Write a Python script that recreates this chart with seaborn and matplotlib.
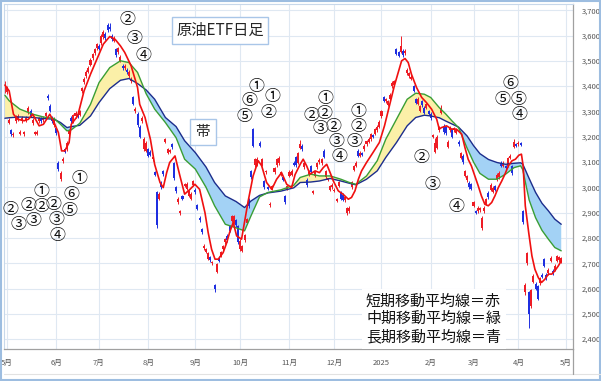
import numpy as np
import pandas as pd
import matplotlib
matplotlib.use("Agg")
import matplotlib.pyplot as plt
import seaborn as sns
from matplotlib.lines import Line2D
from matplotlib.patches import Rectangle

# ---------------- data ----------------
all_days = pd.bdate_range("2024-04-30", "2025-05-01")
month_starts = pd.date_range("2024-05-01", "2025-05-01", freq="MS")
month_labels = ["5月", "6月", "7月", "8月", "9月", "10月", "11月", "12月",
                "2025", "2月", "3月", "4月", "5月"]

opens = [3380,3375,3255,3225,3205,3262,3270,3212,3262,3210,
         3265,3296,3302,3255,3212,3212,3262,3270,3265,3280,
         3360,3322,3275,3245,3235,3098,3032,3105,3150,3150,
         3210,3275,3260,3280,3290,3285,3380,3415,3440,3455,
         3485,3510,3530,3550,3560,3570,3595,3605,3640,3635,
         3598,3580,3545,3535,3500,3480,3470,3465,3440,3420,
         3355,3300,3290,3240,3262,3150,3145,3150,3140,3110,
         3060,2980,2955,3019,3065,3180,3135,3140,3170,3095,
         3000,2942,2898,2965,3005,2995,2965,2955,3010,2990,
         2930,2880,2835,2760,2745,2718,2725,2700,2612,2665,
         2722,2730,2755,2782,2808,2847,2867,2860,2870,2847,
         2755,2750,2790,2860,2953,3065,3230,3088,3090,3177,
         3090,3025,3060,3000,2930,2995,3060,3088,3095,3050,
         3040,2965,2995,3045,3050,3098,3118,3098,3157,3165,
         3080,3030,3050,3085,2978,3045,3080,3100,3095,3145,
         3040,3030,2990,3000,2985,2945,3005,2980,2970,2948,
         2900,2905,3000,3070,3085,3145,3125,3135,3150,3170,
         3180,3190,3205,3210,3225,3240,3280,3355,3340,3325,
         3350,3400,3405,3545,3533,3535,3540,3530,3450,3440,
         3430,3400,3348,3330,3302,3340,3315,3315,3300,3290,
         3200,3140,3155,3225,3295,3243,3238,3160,3225,3230,
         3225,3215,3180,3115,3125,3045,3028,3018,3012,2928,
         2907,2907,2910,2840,2905,2935,2978,2990,2982,3005,
         3032,3040,3098,3085,3085,3085,3115,3085,3160,3170,
         3170,3175,2907,2585,2700,2585,2530,2625,2617,2610,
         2620,2655,2716,2655,2660,2710,2670,2675,2710,2712,2705]
closes = [3405,3395,3265,3210,3212,3278,3282,3220,3275,3218,
          3272,3312,3282,3265,3218,3220,3272,3262,3275,3292,
          3352,3302,3262,3270,3215,3072,3058,3112,3140,3177,
          3225,3262,3285,3295,3280,3300,3392,3430,3455,3470,
          3505,3525,3545,3565,3548,3600,3615,3590,3620,3625,
          3585,3592,3522,3550,3515,3470,3480,3455,3455,3430,
          3330,3310,3245,3200,3275,3190,3175,3125,3128,3120,
          3050,2850,2975,3000,3052,3190,3150,3145,3158,3035,
          2985,2955,2905,2955,3012,3015,2985,2975,3025,2980,
          2915,2870,2822,2770,2755,2740,2712,2705,2598,2695,
          2709,2745,2768,2795,2790,2828,2887,2885,2850,2782,
          2788,2768,2810,2875,2927,3040,3165,3110,3112,3165,
          3110,3000,3065,2995,2936,3005,3075,3110,3115,3060,
          3030,2942,3005,3062,3065,3090,3087,3135,3170,3150,
          3095,3008,3062,3060,2982,3060,3095,3108,3110,3120,
          3065,3033,3005,3010,2990,2952,3020,2955,2950,2960,
          2918,2920,3020,3085,3098,3125,3137,3128,3165,3183,
          3192,3210,3200,3230,3240,3260,3300,3342,3348,3340,
          3365,3414,3420,3528,3520,3560,3522,3540,3465,3450,
          3437,3382,3335,3350,3320,3325,3295,3328,3290,3272,
          3205,3175,3200,3238,3315,3218,3215,3180,3238,3200,
          3235,3225,3170,3135,3100,3065,3045,3000,2995,2940,
          2900,2920,2918,2880,2920,2952,2960,3010,2998,2990,
          3050,3058,3085,3098,3075,3115,3125,3055,3178,3165,
          3175,3168,2862,2615,2740,2500,2595,2650,2600,2560,
          2640,2645,2690,2640,2675,2722,2660,2690,2728,2725,2720]
highs = [3420,3402,3272,3230,3218,3285,3288,3226,3282,3224,
         3280,3322,3308,3272,3224,3226,3278,3276,3282,3298,
         3368,3328,3280,3276,3240,3104,3064,3118,3156,3182,
         3232,3282,3290,3302,3296,3306,3398,3436,3462,3478,
         3512,3532,3552,3572,3566,3606,3622,3612,3650,3648,
         3604,3598,3552,3556,3522,3486,3486,3470,3462,3436,
         3362,3316,3296,3246,3282,3198,3182,3156,3146,3126,
         3066,2986,2982,3025,3070,3196,3156,3150,3176,3100,
         3006,2960,2910,2970,3018,3020,2990,2980,3030,2996,
         2936,2886,2840,2776,2760,2746,2730,2710,2618,2700,
         2728,2750,2774,2800,2814,2852,2892,2890,2876,2852,
         2794,2774,2816,2880,2958,3070,3236,3116,3118,3182,
         3116,3030,3070,3006,2942,3010,3080,3116,3122,3066,
         3046,2970,3010,3068,3072,3104,3124,3140,3188,3172,
         3100,3036,3068,3090,2988,3066,3100,3114,3116,3152,
         3070,3038,3010,3016,2996,2958,3026,2986,2976,2966,
         2924,2926,3026,3090,3104,3150,3142,3140,3170,3188,
         3198,3216,3212,3236,3246,3266,3306,3362,3354,3346,
         3372,3420,3426,3552,3540,3600,3546,3546,3472,3456,
         3442,3406,3354,3356,3326,3346,3320,3334,3306,3296,
         3210,3195,3206,3244,3325,3250,3244,3186,3244,3236,
         3240,3230,3186,3140,3130,3070,3050,3024,3018,2946,
         2912,2926,2924,2886,2926,2958,2984,3016,3004,3010,
         3056,3064,3104,3104,3090,3120,3130,3090,3190,3176,
         3182,3180,2912,2622,2746,2590,2600,2656,2624,2615,
         2646,2660,2722,2660,2680,2728,2676,2696,2734,2730,2726]
lows = [3372,3368,3250,3204,3200,3256,3264,3206,3255,3204,
        3258,3290,3276,3248,3206,3206,3256,3256,3258,3274,
        3346,3296,3256,3240,3208,3064,3024,3098,3134,3144,
        3204,3256,3254,3274,3274,3280,3374,3408,3434,3450,
        3478,3504,3524,3544,3542,3564,3588,3584,3614,3618,
        3578,3574,3516,3528,3494,3464,3464,3448,3434,3414,
        3324,3294,3240,3194,3256,3144,3140,3118,3122,3104,
        3044,2840,2948,2994,3046,3174,3130,3134,3152,3030,
        2978,2936,2892,2950,3000,2990,2960,2950,3004,2974,
        2910,2864,2816,2754,2740,2712,2706,2694,2588,2660,
        2704,2724,2750,2776,2784,2822,2862,2855,2844,2776,
        2750,2744,2784,2854,2920,3034,3160,3082,3084,3160,
        3084,2994,3054,2990,2924,2990,3054,3082,3090,3044,
        3024,2936,2990,3040,3044,3084,3082,3094,3152,3144,
        3074,3002,3044,3054,2972,3040,3074,3094,3090,3114,
        3034,3024,2984,2994,2980,2940,3000,2950,2944,2942,
        2892,2898,2995,3064,3080,3120,3120,3122,3144,3165,
        3174,3185,3194,3205,3220,3235,3275,3336,3334,3320,
        3345,3394,3400,3522,3514,3530,3516,3524,3444,3434,
        3424,3376,3330,3325,3296,3318,3290,3310,3284,3266,
        3194,3134,3150,3220,3290,3212,3208,3154,3220,3194,
        3220,3210,3164,3110,3094,3040,3022,2994,2990,2922,
        2894,2900,2904,2830,2900,2930,2954,2984,2976,2984,
        3026,3034,3080,3080,3070,3080,3110,3050,3155,3160,
        3164,3162,2856,2575,2694,2445,2524,2620,2594,2554,
        2614,2640,2684,2634,2654,2704,2654,2670,2704,2706,2700]

# moving averages, read at knots (trading-day index)
short_idx = [0, 2, 4, 6, 9, 11, 13, 16, 18, 21, 23, 25, 26.5, 28, 30, 31, 34, 37, 40, 43,
             46, 49, 51.5, 54, 56, 59, 62, 63, 65.5, 68, 70, 72.5, 74, 75.6, 77, 79.5, 81.8, 84,
             86.5, 88.8, 91, 93.5, 95, 96.6, 98.2, 99.7, 102, 103.7, 105, 106.7, 108.3, 110.6,
             112.2, 113.7, 116, 118.4, 120, 122.3, 124.7, 127, 129.3, 131.7, 134, 135.6, 138,
             139.4, 141, 142.6, 145, 147, 148.8, 150.4, 152, 153.5, 155.8, 158, 160.5, 162,
             163.6, 165.2, 166.7, 169, 172, 175, 177.4, 179.7, 182, 183.8, 185.4, 187, 188.5,
             190, 192.4, 194.8, 197, 199.4, 201.8, 203, 204, 206.4, 208.8, 211, 213.5, 215,
             216.5, 218, 219.6, 221.2, 222.7, 224.3, 225.9, 227.5, 229, 230.6, 232.2, 233.7,
             235.3, 237, 238.6, 240.2, 241.4, 242.2, 243.2, 244.8, 246.3, 247.7, 249.3, 250.8,
             252.4, 254, 255.6, 257, 258.6, 260]
short_ma = [3404, 3381, 3289, 3269, 3263, 3269, 3289, 3243, 3249, 3289, 3256, 3216, 3144, 3144,
            3177, 3249, 3282, 3381, 3447, 3506, 3566, 3596, 3585, 3559, 3533, 3480, 3394, 3328,
            3276, 3190, 3090, 3019, 2999, 3058, 3098, 3124, 3045, 2973, 2992, 3012, 2992, 2900,
            2821, 2755, 2716, 2716, 2742, 2782, 2821, 2861, 2808, 2795, 2874, 2946, 3045, 3105,
            3085, 3019, 2992, 3032, 3058, 3012, 2999, 3050, 3091, 3111, 3085, 3052, 3065, 3058,
            3078, 3091, 3058, 3025, 2986, 2973, 2953, 2960, 2986, 3032, 3065, 3098, 3137, 3177,
            3243, 3322, 3401, 3454, 3500, 3509, 3493, 3447, 3394, 3355, 3335, 3309, 3269, 3230,
            3236, 3243, 3230, 3230, 3210, 3157, 3111, 3085, 3045, 3006, 2966, 2933, 2927, 2940,
            2966, 2999, 3025, 3052, 3085, 3105, 3111, 3127, 3131, 3085, 2927, 2821, 2729, 2676,
            2643, 2624, 2637, 2657, 2657, 2670, 2689, 2709]

long_idx = [0, 2, 7, 13, 18, 23, 26, 29, 31, 35, 40, 44, 49, 54, 58, 62, 66, 70, 75, 80, 84,
            89, 94, 98, 103, 108, 112, 115, 119, 123, 129, 135, 138, 143, 147, 152, 157, 161,
            164, 169, 174, 178, 183, 188, 192, 196, 199, 203, 206, 209, 212, 216, 219, 222, 226,
            230, 234, 238, 241, 242, 245, 248, 251, 254, 257, 260]
mid_ma = [3364, 3342, 3309, 3289, 3278, 3272, 3249, 3223, 3227, 3253, 3328, 3414, 3473, 3500,
          3493, 3454, 3370, 3309, 3256, 3196, 3111, 3072, 3000, 2927, 2854, 2840, 2828, 2887,
          2962, 2980, 2990, 3008, 3039, 3052, 3045, 3045, 3032, 3019, 3012, 3045, 3105, 3190,
          3269, 3348, 3372, 3368, 3355, 3315, 3290, 3262, 3236, 3155, 3100, 3055, 3032, 3032,
          3052, 3078, 3085, 3070, 2950, 2880, 2830, 2795, 2762, 2749]
long_ma = [3273, 3275, 3278, 3276, 3272, 3269, 3256, 3236, 3240, 3245, 3282, 3335, 3390, 3423,
           3430, 3410, 3385, 3348, 3276, 3240, 3184, 3137, 3080, 3019, 2966, 2944, 2920, 2946,
           2968, 2978, 2985, 2998, 3019, 3021, 3025, 3035, 3025, 3016, 3010, 3032, 3065, 3118,
           3177, 3243, 3276, 3285, 3282, 3275, 3262, 3250, 3238, 3203, 3165, 3133, 3110, 3098,
           3091, 3095, 3097, 3092, 3035, 2980, 2937, 2907, 2874, 2854]

# circled wave-count labels (text, trading-day index, price)
ann_text = ["②", "③", "②", "③", "①", "②", "②", "③", "④", "⑥", "⑤", "①",
            "②", "③", "④",
            "①", "⑥", "⑤", "①", "②",
            "①", "②", "②", "③", "②", "③", "④", "①", "②", "③",
            "②", "③", "④",
            "⑥", "⑤", "⑤", "④"]
ann_idx = [2.4, 6.3, 10.9, 13.3, 17.2, 17.2, 22.6, 24.2, 24.5, 31.2, 30.4, 34.8,
           57.4, 60.8, 65.0,
           117.7, 114.5, 111.9, 125.1, 123.1,
           149.9, 143.4, 149.3, 147.6, 153.5, 155.0, 156.6, 165.1, 165.1, 163.3,
           194.8, 199.9, 211.1,
           236.5, 232.4, 239.9, 240.7]
ann_price = [2911, 2852, 2927, 2868, 2983, 2924, 2931, 2874, 2808, 2971, 2908, 3033,
             3662, 3588, 3522,
             3400, 3344, 3281, 3358, 3294,
             3351, 3284, 3291, 3232, 3241, 3180, 3120, 3298, 3241, 3180,
             3119, 3013, 2924,
             3409, 3349, 3349, 3288]

y_ticks = list(range(2400, 3701, 100))

# ---------------- plot ----------------
sns.set_style("white")
plt.rcParams['font.family'] = ['Noto Sans CJK JP', 'DejaVu Sans']

fig = plt.figure(figsize=(6.01, 3.81), dpi=100)
ax = fig.add_axes([4 / 601, 32 / 381, 569 / 601, 345 / 381])

o = np.array(opens)
c = np.array(closes)
h = np.array(highs)
l = np.array(lows)
x = np.arange(len(c))
cols = np.where(c >= o, "#ee1c25", "#1f2fe0")

mid = np.array(mid_ma)
lng = np.array(long_ma)
ax.fill_between(long_idx, mid, lng, where=mid >= lng, interpolate=True,
                color="#fbf0a8", lw=0, zorder=1)
ax.fill_between(long_idx, mid, lng, where=mid < lng, interpolate=True,
                color="#a3d2f5", lw=0, zorder=1)

ax.vlines(x, l, h, colors=cols, lw=0.7, zorder=2)
ax.bar(x, np.maximum(np.abs(c - o), 6), bottom=np.minimum(o, c), width=0.95,
       color=cols, lw=0, zorder=2)

sns.lineplot(x=long_idx, y=long_ma, ax=ax, color="#1c2d8c", lw=1.0, errorbar=None, zorder=3)
sns.lineplot(x=long_idx, y=mid_ma, ax=ax, color="#3a9e35", lw=1.0, errorbar=None, zorder=3)
sns.lineplot(x=short_idx, y=short_ma, ax=ax, color="#f01010", lw=1.2, errorbar=None, zorder=4)

for t, xi, yi in zip(ann_text, ann_idx, ann_price):
    ax.text(xi, yi, t, fontsize=11.5, ha="center", va="center", color="#111111", zorder=5)

# axes styling
ax.set_xlim(-0.42, 265.5)
ax.set_ylim(2361, 3724.5)
tick_pos = all_days.searchsorted(month_starts)
ax.set_xticks(tick_pos)
ax.set_xticklabels(month_labels, fontsize=5.5, color="#555555")
ax.yaxis.tick_right()
ax.set_yticks(y_ticks)
ax.set_yticklabels([f"{v:,}" for v in y_ticks], fontsize=5.5, color="#555555")
ax.tick_params(axis="both", length=0)
ax.tick_params(axis="x", pad=7)
ax.tick_params(axis="y", pad=6)
ax.grid(True, color="#dfe8f2", lw=0.8)
ax.set_axisbelow(True)
for side in ["left", "top"]:
    ax.spines[side].set_color("#c8d8ea")
    ax.spines[side].set_linewidth(0.8)
for side in ["right", "bottom"]:
    ax.spines[side].set_color("#a0a0a0")
    ax.spines[side].set_linewidth(0.9)
ax.set_xlabel("")
ax.set_ylabel("")

# frame lines of the date strip and outer border
fig.add_artist(Line2D([4 / 601, 1], [1 - 374 / 381] * 2, color="#e2e2e2", lw=0.8))
fig.add_artist(Line2D([573 / 601] * 2, [1 - 374 / 381, 32 / 381], color="#a0a0a0", lw=0.9))
fig.add_artist(Rectangle((0.001, 0.002), 0.997, 0.995, transform=fig.transFigure,
                         fill=False, edgecolor="#9dbde0", lw=1.5))

# text boxes
fig.text(220 / 601, 1 - 30.5 / 381, "原油ETF日足", fontsize=11, ha="center", va="center",
         bbox=dict(boxstyle="square,pad=0.3", fc="white", ec="#a9c6e8", lw=1))
fig.text(203 / 601, 1 - 132 / 381, "帯", fontsize=10.5, ha="center", va="center",
         bbox=dict(boxstyle="square,pad=0.4", fc="white", ec="#a9c6e8", lw=1))
fig.text(366 / 601, 1 - 319 / 381,
         "短期移動平均線＝赤\n中期移動平均線＝緑\n長期移動平均線＝青",
         fontsize=10.8, ha="left", va="center", linespacing=1.3, color="#111111",
         bbox=dict(boxstyle="square,pad=0.3", fc="white", ec="none"))

fig.savefig("out.png", dpi=100)
